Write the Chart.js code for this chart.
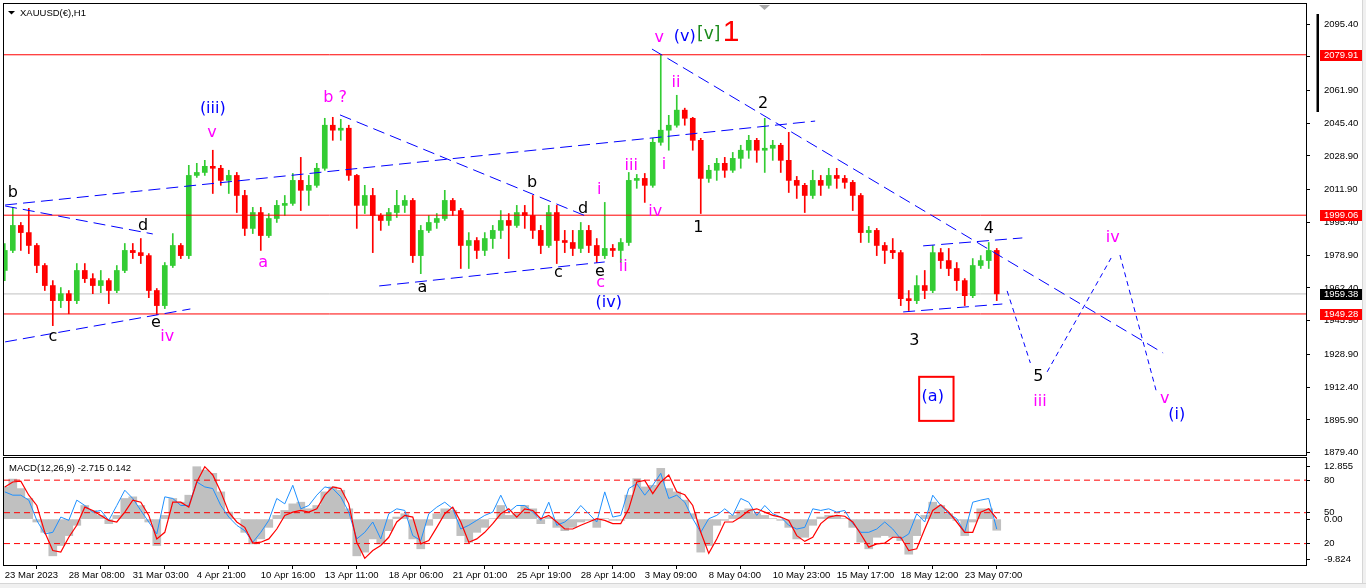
<!DOCTYPE html>
<html>
<head>
<meta charset="utf-8">
<title>XAUUSD H1</title>
<script src="https://cdn.jsdelivr.net/npm/chart.js@4.4.1/dist/chart.umd.min.js"></script>
<style>
html, body { margin: 0; padding: 0; background: #fff; }
body { width: 1366px; height: 588px; position: relative; overflow: hidden; }
#mainBox { position: absolute; left: 0; top: 0; width: 1366px; height: 458px; }
#macdBox { position: absolute; left: 0; top: 456px; width: 1366px; height: 132px; }
#edgeR { position: absolute; left: 1362px; top: 0; width: 4px; height: 588px; background: #f0f0f0; border-left: 1px solid #d6d6d6; }
#edgeB { position: absolute; left: 0; top: 583px; width: 1366px; height: 5px; background: #f0f0f0; border-top: 1px solid #d6d6d6; }
</style>
</head>
<body>
<div id="mainBox"><canvas id="mainChart"></canvas></div>
<div id="macdBox"><canvas id="macdChart"></canvas></div>
<div id="edgeR"></div>
<div id="edgeB"></div>
<script>
Chart.defaults.font.family = '"Liberation Sans", Arial, sans-serif';
Chart.defaults.font.size = 9.5;
Chart.defaults.color = '#000';

// time axis
const timeLabels = ['23 Mar 2023', '28 Mar 08:00', '31 Mar 03:00', '4 Apr 21:00', '10 Apr 16:00', '13 Apr 11:00',
    '18 Apr 06:00', '21 Apr 01:00', '25 Apr 19:00', '28 Apr 14:00', '3 May 09:00', '8 May 04:00',
    '10 May 23:00', '15 May 17:00', '18 May 12:00', '23 May 07:00'];
const timeLabelBars = [0, 8, 16, 24, 32, 40, 48, 56, 64, 72, 80, 88, 96, 104, 112, 120];

// price candles (8h bars)
const opens = [
    1971.2, 1981.3, 1993.9, 1990.3, 1983.8, 1973.7, 1963.6, 1956.0, 1959.5, 1956.0,
    1971.2, 1967.1, 1963.6, 1966.1, 1961.1, 1971.2, 1981.3, 1980.2, 1978.7, 1961.1,
    1953.5, 1973.7, 1983.8, 1978.7, 2019.1, 2020.6, 2023.7, 2022.7, 2016.6, 2019.1,
    2009.0, 1992.4, 2000.4, 1988.8, 1997.4, 2004.0, 2005.0, 2016.6, 2011.6, 2014.1,
    2022.7, 2044.4, 2041.9, 2042.9, 2019.1, 2004.0, 2009.0, 1998.9, 1996.4, 2000.4,
    2004.0, 2006.5, 1978.7, 1991.4, 1995.4, 1997.4, 2006.5, 2001.4, 1983.8, 1986.3,
    1981.3, 1987.3, 1991.4, 1996.4, 1993.9, 2000.4, 1998.9, 1991.4, 1983.8, 2000.4,
    1986.3, 1985.3, 1982.3, 1991.4, 1983.8, 1978.7, 1982.3, 1981.3, 1985.3, 2016.6,
    2017.6, 2014.1, 2035.8, 2041.9, 2044.4, 2052.0, 2047.9, 2036.8, 2017.6, 2021.7,
    2025.2, 2021.7, 2027.7, 2031.8, 2036.8, 2031.8, 2032.8, 2034.3, 2026.7, 2016.6,
    2014.1, 2009.0, 2016.6, 2014.1, 2019.1, 2017.6, 2015.6, 2009.0, 1990.3, 1991.4,
    1983.8, 1981.3, 1980.2, 1957.0, 1956.0, 1963.6, 1961.1, 1980.2, 1976.2, 1972.2,
    1966.1, 1958.5, 1973.7, 1976.2, 1981.3];
const highs = [
    1984.8, 2003.0, 1995.4, 2002.5, 1984.8, 1974.7, 1966.1, 1962.6, 1961.1, 1974.7,
    1974.7, 1969.6, 1971.2, 1967.1, 1973.7, 1984.8, 1984.8, 1987.3, 1979.7, 1962.1,
    1975.2, 1989.8, 1984.8, 2024.2, 2025.2, 2026.7, 2031.8, 2024.2, 2021.7, 2020.6,
    2011.6, 2003.0, 2003.0, 1999.9, 2006.5, 2009.0, 2020.1, 2028.2, 2019.1, 2025.2,
    2047.9, 2048.4, 2047.4, 2044.4, 2019.6, 2014.1, 2012.6, 1999.9, 2002.5, 2011.6,
    2009.0, 2007.5, 1993.9, 1998.9, 1999.9, 2011.6, 2007.5, 2002.5, 1990.3, 1987.8,
    1990.3, 1993.9, 2001.4, 1999.9, 2004.0, 2004.0, 2009.0, 1993.9, 2004.0, 2004.0,
    1991.4, 1991.4, 1995.4, 1993.9, 1987.3, 2005.5, 1984.3, 1987.3, 2020.6, 2019.6,
    2020.1, 2037.8, 2079.9, 2049.4, 2059.5, 2053.0, 2048.4, 2037.8, 2024.2, 2027.7,
    2028.2, 2030.7, 2034.3, 2039.3, 2037.8, 2047.9, 2036.8, 2035.3, 2040.8, 2018.6,
    2015.1, 2021.7, 2019.1, 2022.7, 2022.7, 2019.1, 2016.6, 2010.0, 1993.4, 1992.4,
    1985.3, 1987.3, 1981.3, 1961.1, 1968.6, 1971.2, 1983.8, 1982.3, 1982.3, 1975.2,
    1967.1, 1977.2, 1978.7, 1985.3, 1982.3];
const lows = [
    1966.1, 1980.2, 1981.3, 1979.7, 1970.1, 1961.1, 1943.4, 1952.5, 1949.4, 1954.5,
    1965.1, 1959.5, 1960.0, 1954.5, 1960.0, 1970.1, 1977.2, 1974.7, 1957.5, 1948.9,
    1952.0, 1972.7, 1977.2, 1977.2, 2018.1, 2019.1, 2010.0, 2014.1, 2010.0, 2000.4,
    1988.8, 1989.8, 1981.3, 1987.8, 1995.4, 1998.9, 2004.0, 2001.4, 2004.0, 2013.1,
    2021.7, 2036.8, 2036.8, 2016.6, 1992.4, 1999.9, 1980.2, 1991.4, 1993.9, 1997.9,
    2000.4, 1975.2, 1969.6, 1990.3, 1992.4, 1996.4, 1998.9, 1972.2, 1972.2, 1977.2,
    1978.7, 1982.3, 1987.3, 1977.2, 1992.9, 1992.4, 1987.3, 1979.7, 1982.8, 1974.7,
    1980.2, 1978.7, 1980.2, 1980.2, 1975.2, 1977.2, 1978.2, 1975.2, 1983.8, 2012.6,
    2005.5, 2013.1, 2034.3, 2031.8, 2043.4, 2044.4, 2031.8, 1999.9, 2015.6, 2016.6,
    2018.1, 2020.6, 2022.7, 2027.7, 2025.7, 2020.6, 2026.7, 2020.6, 2010.5, 2007.5,
    2000.4, 2007.5, 2009.0, 2012.6, 2012.6, 2012.6, 2001.4, 1985.3, 1985.3, 1978.7,
    1974.7, 1977.2, 1953.5, 1951.0, 1954.5, 1957.0, 1960.0, 1972.2, 1968.6, 1961.1,
    1953.5, 1957.5, 1972.2, 1972.2, 1956.0];
const closes = [
    1981.3, 1993.9, 1990.3, 1983.8, 1973.7, 1963.6, 1956.0, 1959.5, 1956.0, 1971.2,
    1967.1, 1963.6, 1966.1, 1961.1, 1971.2, 1981.3, 1980.2, 1978.7, 1961.1, 1953.5,
    1973.7, 1983.8, 1978.7, 2019.1, 2020.6, 2023.7, 2022.7, 2016.6, 2019.1, 2009.0,
    1992.4, 2000.4, 1988.8, 1997.4, 2004.0, 2005.0, 2016.6, 2011.6, 2014.1, 2022.7,
    2044.4, 2041.9, 2042.9, 2019.1, 2004.0, 2009.0, 1998.9, 1996.4, 2000.4, 2004.0,
    2006.5, 1978.7, 1991.4, 1995.4, 1997.4, 2006.5, 2001.4, 1983.8, 1986.3, 1981.3,
    1987.3, 1991.4, 1996.4, 1993.9, 2000.4, 1998.9, 1991.4, 1983.8, 2000.4, 1986.3,
    1985.3, 1982.3, 1991.4, 1983.8, 1978.7, 1982.3, 1981.3, 1985.3, 2016.6, 2017.6,
    2014.1, 2035.8, 2041.9, 2044.4, 2052.0, 2047.9, 2036.8, 2017.6, 2021.7, 2025.2,
    2021.7, 2027.7, 2031.8, 2036.8, 2031.8, 2032.8, 2034.3, 2026.7, 2016.6, 2014.1,
    2009.0, 2016.6, 2014.1, 2019.1, 2017.6, 2015.6, 2009.0, 1990.3, 1991.4, 1983.8,
    1981.3, 1980.2, 1957.0, 1956.0, 1963.6, 1961.1, 1980.2, 1976.2, 1972.2, 1966.1,
    1958.5, 1973.7, 1976.2, 1981.3, 1959.4];

// MACD window
const macdMain = [
    7.8, 9.7, 7.4, 5.0, -0.7, -3.2, -8.9, -6.4, -4.0, -1.5,
    3.3, 2.1, 0.9, -1.1, 0.9, 5.0, 5.4, 3.3, -0.7, -6.4,
    0.9, 5.0, 4.1, 5.8, 12.7, 11.9, 11.1, 6.6, 1.7, 0.1,
    -3.2, -6.0, -4.8, -2.0, 0.9, 2.1, 3.7, 4.1, 2.5, 3.3,
    6.6, 7.8, 7.0, 2.5, -8.9, -8.0, -4.8, -6.0, -2.8, 0.5,
    1.3, -4.8, -7.2, -1.5, 1.3, 2.5, 2.1, -4.0, -5.6, -3.2,
    -2.0, 0.1, 3.3, 0.9, 1.3, 3.3, 2.5, -1.1, 0.5, -2.0,
    -2.8, -2.0, -0.7, -0.3, -2.0, 0.1, -0.3, -0.3, 5.8, 9.8,
    7.8, 8.2, 12.3, 7.4, 6.6, 4.6, 1.3, -8.0, -6.4, -1.5,
    -0.3, 0.9, 2.1, 2.5, 1.3, 0.9, 0.1, -0.3, -2.0, -4.8,
    -4.4, -1.5, 0.5, 0.9, 0.7, 0.1, -2.0, -5.6, -7.2, -4.4,
    -4.0, -4.4, -5.2, -8.5, -4.0, 0.9, 4.1, 3.3, 1.3, -0.3,
    -4.0, -0.7, 2.5, 2.5, -2.7];
const macdSignal = [
    7.8, 9.0, 9.2, 5.8, 3.3, -3.2, -7.6, -8.0, -4.4, -1.5,
    2.9, 2.1, 0.9, -0.3, -0.7, 1.7, 4.6, 4.1, 0.9, -4.8,
    -3.2, 4.1, 4.1, 2.9, 9.0, 12.7, 10.7, 6.6, 1.7, -0.7,
    -2.0, -5.8, -5.6, -4.8, -2.4, 0.9, 1.7, 2.1, 1.7, 2.5,
    5.8, 7.8, 7.4, 3.7, -5.6, -9.5, -7.6, -6.4, -4.4, -0.7,
    0.9, 0.5, -6.0, -5.2, -2.0, 1.3, 2.9, -0.7, -5.6, -4.8,
    -3.2, -1.1, 1.3, 2.5, 0.5, 2.5, 2.1, 0.1, 0.9, -0.7,
    -2.4, -2.4, -1.5, -0.7, 0.1, -0.3, -1.1, -1.1, 2.5, 9.0,
    9.4, 6.2, 9.0, 10.7, 6.6, 5.9, 3.3, -3.2, -8.3, -4.8,
    -0.7, -0.7, 0.5, 2.1, 2.5, 1.7, 0.9, 0.5, -0.3, -4.0,
    -5.4, -4.4, -1.1, 0.5, 0.9, 0.7, -0.7, -3.6, -6.8, -6.0,
    -5.8, -4.4, -4.4, -7.6, -7.2, -2.4, 2.1, 3.5, 1.7, -0.7,
    -3.2, -3.2, 1.7, 2.5, 0.1];
const blueLine = [
    6.6, 5.8, 5.8, 4.6, -0.3, -3.6, -3.2, 0.5, -0.3, 4.6,
    3.3, 1.7, 2.1, -0.3, 3.3, 7.0, 5.0, 2.1, -0.7, -3.6,
    5.4, 5.0, 3.3, 3.3, 9.0, 7.8, 7.4, 3.3, 0.5, -1.5,
    -2.8, -5.6, -3.2, -0.3, 5.0, 3.7, 8.2, 2.5, 3.3, 5.8,
    7.8, 7.4, 5.4, 1.7, -4.8, -3.2, -0.7, -4.8, 1.3, 2.5,
    2.1, -4.0, -5.2, 1.3, 2.9, 4.1, 2.5, -2.4, -1.5, -0.3,
    0.9, 1.7, 5.8, 1.7, 3.3, 3.3, 1.7, -0.3, 4.1, -1.5,
    -0.7, 0.9, 3.3, 1.3, -0.7, 6.6, 0.5, 0.9, 7.4, 8.6,
    5.8, 8.2, 11.1, 5.0, 5.8, 4.1, 0.1, -3.2, 0.1, 0.9,
    2.5, 0.9, 5.0, 4.1, 0.9, 3.3, 1.3, 0.5, -1.5, -2.4,
    -2.0, 2.5, 2.1, 2.5, 1.7, 2.1, -1.1, -3.2, -3.2, -2.4,
    -0.7, -2.4, -4.8, -3.6, 1.3, -0.7, 5.8, 3.3, 1.3, 0.1,
    -3.2, 4.1, 4.6, 5.0, -2.4];

// axis ticks and levels
const priceTicks = [2095.40, 2078.90, 2061.90, 2045.40, 2028.90, 2011.90, 1995.40, 1978.90,
    1962.40, 1945.90, 1928.90, 1912.40, 1895.90, 1879.40];
const levelLines = [2079.91, 1999.06, 1949.28];
const bidPrice = 1959.38;
const macdTicks = [12.855, 9.44, 1.56, 0, -5.93, -9.824];
const macdTickLabels = ['12.855', '80', '50', '0.00', '20', '-9.824'];
const macdLevels = [9.44, 1.56, -5.93];

// trend lines: [bar index, price] pairs
const channelLines = [
    [[0.04, 2004.2], [101.3, 2046.5]],
    [[0.04, 2003.7], [18.5, 1989.6]],
    [[0.04, 1935.2], [23.2, 1951.8]],
    [[41.9, 2049.6], [72.9, 1998.2]],
    [[46.8, 1963.4], [75.0, 1975.5]],
    [[80.9, 2082.8], [144.8, 1929.6]],
    [[114.8, 1983.6], [127.2, 1987.6]],
    [[112.3, 1950.3], [124.7, 1954.3]]
];
const projectionPath = [
    [[125.3, 1960.9], [128.2, 1924.6]],
    [[130.3, 1920.1], [138.3, 1977.5]],
    [[139.4, 1979.0], [144.0, 1909.5]]
];

// wave counts: [text, bar index, price]
const blackWaves = [['b', 1.0, 2010.2], ['c', 6.0, 1937.7], ['d', 17.3, 1993.6], ['e', 18.9, 1944.8],
    ['a', 52.2, 1962.4], ['b', 65.9, 2015.3], ['c', 69.2, 1970.0], ['d', 72.3, 2002.2], ['e', 74.4, 1970.5],
    ['1', 86.7, 1992.6], ['2', 94.8, 2055.1], ['3', 113.7, 1935.7], ['4', 123.0, 1992.1], ['5', 129.2, 1917.6]];
const pinkWaves = [['iv', 20.3, 1937.7], ['v', 25.9, 2040.5], ['a', 32.3, 1975.0], ['b ?', 41.3, 2058.1],
    ['i', 74.3, 2011.8], ['c', 74.5, 1964.9], ['ii', 77.3, 1973.0], ['iii', 78.3, 2023.9], ['iv', 81.3, 2000.7],
    ['i', 82.4, 2024.4], ['ii', 83.9, 2065.7], ['v', 81.8, 2088.4], ['iv', 138.5, 1987.6], ['iii', 129.4, 1904.9],
    ['v', 145.0, 1906.5]];
const blueWaves = [['(iii)', 26.0, 2052.6], ['(iv)', 75.5, 1954.8], ['(v)', 85.0, 2088.9], ['(a)', 116.0, 1907.5],
    ['(i)', 146.5, 1898.4]];
const greenWaves = [['[v]', 88.0, 2089.9]];
const redWaves = [['1', 90.8, 2090.9]];
const boxCorners = [[114.3, 1917.6], [118.6, 1895.4]];

const xMin = -0.1, xMax = 162.66;
const bullColor = '#33cc33', bearColor = '#ff0000';
const candleColors = closes.map((c, i) => c >= opens[i] ? bullColor : bearColor);

function segment(s) { return [{x: s[0][0], y: s[0][1]}, {x: s[1][0], y: s[1][1]}]; }
function hLine(v) { return [{x: xMin, y: v}, {x: xMax, y: v}]; }
function series(arr) { return arr.map((v, i) => ({x: i, y: v})); }

const mainDecor = {
    id: 'mainDecor',
    afterDatasetsDraw(chart) {
        const {ctx, chartArea: a, scales: {x, y}} = chart;
        ctx.save();
        ctx.beginPath();
        ctx.rect(a.left, a.top, a.right - a.left, a.bottom - a.top);
        ctx.clip();
        ctx.textAlign = 'center';
        ctx.textBaseline = 'middle';
        const put = (list, color, font) => {
            ctx.fillStyle = color;
            ctx.font = font;
            list.forEach(w => ctx.fillText(w[0], x.getPixelForValue(w[1]), y.getPixelForValue(w[2])));
        };
        put(blackWaves, '#000000', '16px "DejaVu Sans"');
        put(pinkWaves, '#ff00ff', '16px "DejaVu Sans"');
        put(blueWaves, '#0000ff', '16px "DejaVu Sans"');
        put(greenWaves, '#1a8a1a', '17px "DejaVu Sans"');
        put(redWaves, '#ff0000', '30px "Liberation Sans"');
        // box round (a)
        const bx0 = x.getPixelForValue(boxCorners[0][0]), by0 = y.getPixelForValue(boxCorners[0][1]);
        const bx1 = x.getPixelForValue(boxCorners[1][0]), by1 = y.getPixelForValue(boxCorners[1][1]);
        ctx.strokeStyle = '#ff0000';
        ctx.lineWidth = 2;
        ctx.strokeRect(bx0, by0, bx1 - bx0, by1 - by0);
        ctx.restore();

        ctx.save();
        ctx.strokeStyle = '#000';
        ctx.lineWidth = 1;
        ctx.strokeRect(a.left - 0.5, a.top - 0.5, a.right - a.left + 1, a.bottom - a.top + 1);
        // symbol title
        ctx.fillStyle = '#000';
        ctx.beginPath();
        ctx.moveTo(8, 11); ctx.lineTo(15, 11); ctx.lineTo(11.5, 14.5); ctx.closePath();
        ctx.fill();
        ctx.font = '9.5px "Liberation Sans"';
        ctx.textAlign = 'left';
        ctx.textBaseline = 'middle';
        ctx.fillText('XAUUSD(€),H1', 20, 13);
        // shift marker
        ctx.fillStyle = '#a8a8a8';
        ctx.beginPath();
        ctx.moveTo(759, 5); ctx.lineTo(770, 5); ctx.lineTo(764.5, 10); ctx.closePath();
        ctx.fill();
        ctx.restore();
    },
    afterDraw(chart) {
        const {ctx, scales: {y}} = chart;
        ctx.save();
        ctx.fillStyle = '#000';
        ctx.fillRect(1316.5, 14, 2.5, 98);
        ctx.font = '9.5px "Liberation Sans"';
        ctx.textAlign = 'left';
        ctx.textBaseline = 'middle';
        const tag = (v, bg) => {
            const yy = y.getPixelForValue(v);
            ctx.fillStyle = bg;
            ctx.fillRect(1320, Math.round(yy) - 5, 43, 11);
            ctx.fillStyle = '#fff';
            ctx.fillText(v.toFixed(2), 1324, Math.round(yy) + 0.5);
        };
        levelLines.forEach(v => tag(v, '#ff0000'));
        tag(bidPrice, '#000000');
        ctx.restore();
    }
};

const macdDecor = {
    id: 'macdDecor',
    afterDatasetsDraw(chart) {
        const {ctx, chartArea: a} = chart;
        ctx.save();
        ctx.strokeStyle = '#000';
        ctx.lineWidth = 1;
        ctx.strokeRect(a.left - 0.5, a.top - 0.5, a.right - a.left + 1, a.bottom - a.top + 1);
        ctx.fillStyle = '#000';
        ctx.font = '9.5px "Liberation Sans"';
        ctx.textAlign = 'left';
        ctx.textBaseline = 'middle';
        ctx.fillText('MACD(12,26,9) -2.715 0.142', 9, 12);
        ctx.restore();
    }
};

const mainDatasets = [
    {type: 'line', data: hLine(bidPrice), borderColor: '#c0c0c0', borderWidth: 1, pointRadius: 0, order: 12},
    {type: 'bar', data: highs.map((h, i) => ({x: i, y: [lows[i], h]})), backgroundColor: candleColors,
        barThickness: 1, grouped: false, order: 10},
    {type: 'bar', data: opens.map((o, i) => ({x: i, y: [o, closes[i]]})), backgroundColor: candleColors,
        barThickness: 5, grouped: false, minBarLength: 1, order: 9},
    ...levelLines.map(v => ({type: 'line', data: hLine(v), borderColor: '#ff0000', borderWidth: 1, pointRadius: 0, order: 2})),
    ...channelLines.map(s => ({type: 'line', data: segment(s), borderColor: '#0000ff', borderWidth: 1,
        borderDash: [12, 6], pointRadius: 0, order: 1})),
    ...projectionPath.map(s => ({type: 'line', data: segment(s), borderColor: '#0000ff', borderWidth: 1,
        borderDash: [5, 4], pointRadius: 0, order: 1}))
];

new Chart(document.getElementById('mainChart'), {
    type: 'bar',
    data: {datasets: mainDatasets},
    options: {
        responsive: true,
        maintainAspectRatio: false,
        animation: false,
        events: [],
        layout: {padding: {left: 4, top: 4, right: 0, bottom: 3}},
        plugins: {legend: {display: false}, tooltip: {enabled: false}},
        scales: {
            x: {type: 'linear', min: xMin, max: xMax, offset: false, display: false},
            y: {
                position: 'right',
                min: 1878.2,
                max: 2105.5,
                afterBuildTicks: s => { s.ticks = priceTicks.map(v => ({value: v})); },
                afterFit: s => { s.width = 60; s.paddingTop = 0; s.paddingBottom = 0; },
                ticks: {autoSkip: false, padding: 14, color: '#000', callback: v => v.toFixed(2)},
                grid: {drawOnChartArea: false, drawTicks: true, tickLength: 4, color: '#000'},
                border: {display: false}
            }
        }
    },
    plugins: [mainDecor]
});

const macdDatasets = [
    {type: 'bar', data: series(macdMain), backgroundColor: '#c0c0c0', barThickness: 8, grouped: false, order: 5},
    ...macdLevels.map(v => ({type: 'line', data: hLine(v), borderColor: '#ff0000', borderWidth: 1,
        borderDash: [6, 4], pointRadius: 0, order: 4})),
    {type: 'line', data: series(blueLine), borderColor: '#1e90ff', borderWidth: 1, pointRadius: 0, order: 3},
    {type: 'line', data: series(macdSignal), borderColor: '#ff0000', borderWidth: 1.2, pointRadius: 0, order: 2}
];

new Chart(document.getElementById('macdChart'), {
    type: 'bar',
    data: {datasets: macdDatasets},
    options: {
        responsive: true,
        maintainAspectRatio: false,
        animation: false,
        events: [],
        layout: {padding: {left: 4, top: 2, right: 0, bottom: 6}},
        plugins: {legend: {display: false}, tooltip: {enabled: false}},
        scales: {
            x: {
                type: 'linear',
                min: xMin,
                max: xMax,
                offset: false,
                afterBuildTicks: s => { s.ticks = timeLabelBars.map(v => ({value: v})); },
                afterFit: s => { s.height = 17; s.paddingLeft = 0; s.paddingRight = 0; },
                ticks: {autoSkip: false, maxRotation: 0, minRotation: 0, align: 'start', padding: 1,
                    color: '#000', callback: (v, k) => timeLabels[k]},
                grid: {drawOnChartArea: false, drawTicks: true, tickLength: 4, color: '#000'},
                border: {display: false}
            },
            y: {
                position: 'right',
                min: -11.12,
                max: 14.81,
                afterBuildTicks: s => { s.ticks = macdTicks.map(v => ({value: v})); },
                afterFit: s => { s.width = 60; s.paddingTop = 0; s.paddingBottom = 0; },
                ticks: {autoSkip: false, padding: 14, color: '#000', callback: (v, k) => macdTickLabels[k]},
                grid: {drawOnChartArea: false, drawTicks: true, tickLength: 4, color: '#000'},
                border: {display: false}
            }
        }
    },
    plugins: [macdDecor]
});
</script>
</body>
</html>
